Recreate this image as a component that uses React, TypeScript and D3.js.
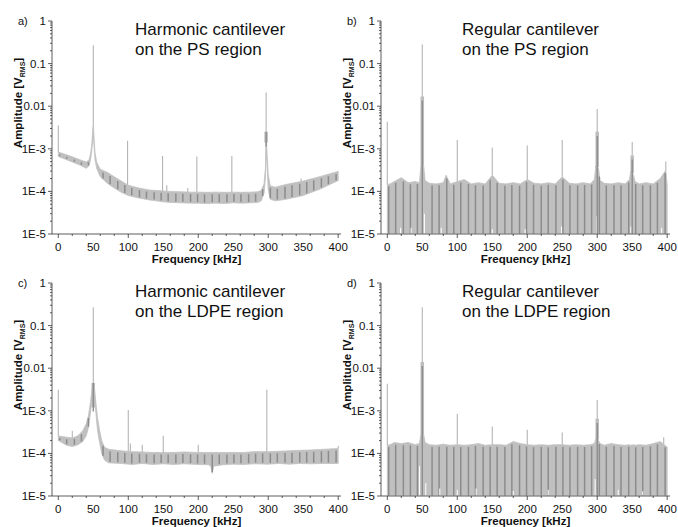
import React, { useEffect, useRef } from "react";
import * as d3 from "d3";

const W = 678, H = 527;

const yTickVals = [1, 0.1, 0.01, 1e-3, 1e-4, 1e-5];
const yTickLabels = ["1", "0.1", "0.01", "1E-3", "1E-4", "1E-5"];
const xTickVals = [0, 50, 100, 150, 200, 250, 300, 350, 400];

// dark striations in the spectra (kHz)
const stripeFreqs = [2, 12, 23, 33, 43, 64, 74, 85, 95, 105, 116, 126, 137, 147, 157, 168, 178, 189, 199, 209,
  220, 230, 241, 251, 261, 272, 282, 292, 303, 313, 324, 334, 345, 355, 365, 376, 386, 397];

// a) harmonic cantilever, PS
const freqA = [0, 10, 20, 30, 40, 44, 46, 47.5, 48.5, 49.3, 50.3, 51.3, 52.5, 55, 60, 70, 80, 90, 100, 115, 130, 140,
  150, 160, 175, 190, 200, 212, 225, 238, 250, 262, 275, 285, 290, 294, 296, 297, 298, 300, 303, 310, 325, 350, 375, 400];
const topA = [8.4e-4, 7.4e-4, 6.5e-4, 5.6e-4, 4.9e-4, 5.5e-4, 7.5e-4, 1.1e-3, 1.9e-3, 3.2e-3, 3.2e-3, 1.6e-3, 8e-4,
  4.8e-4, 3.3e-4, 2.8e-4, 2.2e-4, 1.75e-4, 1.4e-4, 1.2e-4, 1.08e-4, 1.05e-4, 1.02e-4, 1.0e-4, 9.8e-5, 9.6e-5,
  9.6e-5, 9.5e-5, 9.6e-5, 9.5e-5, 9.6e-5, 9.5e-5, 9.6e-5, 9.8e-5, 1.05e-4, 1.5e-4, 3.5e-4, 2.5e-3, 1.0e-3, 2.5e-4,
  1.35e-4, 1.25e-4, 1.45e-4, 1.75e-4, 2.25e-4, 2.95e-4];
const botA = [6.6e-4, 5.7e-4, 4.9e-4, 4.2e-4, 3.5e-4, 4.0e-4, 5.5e-4, 8e-4, 1.2e-3, 1.8e-3, 1.8e-3, 1.0e-3, 5.5e-4,
  3.4e-4, 2.2e-4, 1.55e-4, 1.2e-4, 9.5e-5, 8e-5, 7e-5, 6.3e-5, 6e-5, 5.7e-5, 5.5e-5, 5.4e-5, 5.3e-5, 5.3e-5, 5.2e-5,
  5.3e-5, 5.2e-5, 5.4e-5, 5.3e-5, 5.4e-5, 5.5e-5, 6e-5, 9e-5, 2e-4, 1e-3, 5e-4, 1.1e-4, 6.5e-5, 6e-5, 6.5e-5, 8e-5,
  1.15e-4, 1.8e-4];
const peakFreqA = [0, 50, 99, 149, 155, 185, 198, 248, 297, 347];
const peakAmpA = [3.5e-3, 0.27, 1.55e-3, 6.8e-4, 1.4e-4, 1.2e-4, 6.6e-4, 6.8e-4, 0.021, 2e-4];
const coreFreqA = [297];
const coreAmpA = [1.4e-3];
const gapFreqA: number[] = [];
const gapAmpA: number[] = [];

// b) regular cantilever, PS
const freqB = [0, 4, 10, 20, 30, 40, 46, 48, 52, 54, 60, 70, 80, 84, 90, 100, 110, 120, 130, 140, 150, 160, 170, 180,
  190, 200, 210, 220, 230, 240, 250, 260, 270, 280, 290, 296, 298, 302, 304, 310, 320, 330, 340, 346, 348, 352, 354,
  360, 370, 380, 390, 396, 398, 400];
const topB = [1.45e-4, 1.5e-4, 1.7e-4, 2.1e-4, 1.6e-4, 1.7e-4, 1.6e-4, 4.0e-4, 4.0e-4, 1.8e-4, 1.55e-4, 1.5e-4,
  1.6e-4, 2.4e-4, 1.5e-4, 1.7e-4, 1.9e-4, 1.5e-4, 1.6e-4, 1.5e-4, 2.4e-4, 1.55e-4, 1.5e-4, 1.6e-4, 1.5e-4, 1.9e-4,
  1.55e-4, 1.5e-4, 1.6e-4, 1.5e-4, 2.2e-4, 1.55e-4, 1.5e-4, 1.6e-4, 1.5e-4, 1.9e-4, 4.0e-4, 3.4e-4, 1.8e-4, 1.55e-4,
  1.5e-4, 1.6e-4, 1.5e-4, 1.9e-4, 3.0e-4, 2.4e-4, 1.7e-4, 1.5e-4, 1.6e-4, 1.5e-4, 2.0e-4, 2.8e-4, 3.2e-4, 1.4e-4];
const peakFreqB = [0, 50, 100, 150, 200, 250, 300, 350, 398];
const peakAmpB = [4.3e-3, 0.28, 1.6e-3, 1.07e-3, 1.2e-3, 1.6e-3, 8.6e-3, 1.45e-3, 5e-4];
const coreFreqB = [50, 300, 350];
const coreAmpB = [0.017, 2.5e-3, 7e-4];
const gapFreqB = [19, 34, 53, 77, 150, 197, 249, 299, 348, 392];
const gapAmpB = [1.4e-5, 1.4e-5, 3e-5, 1.4e-5, 1.3e-5, 1.3e-5, 1.5e-5, 2.6e-5, 1.5e-5, 1.4e-5];

// c) harmonic cantilever, LDPE
const freqC = [0, 5, 12, 20, 28, 35, 40, 43, 46, 48, 49.5, 50.5, 52, 54, 56, 59, 62, 66, 72, 90, 105, 120, 135, 150,
  165, 180, 200, 215, 218, 220, 222, 235, 250, 265, 280, 300, 315, 330, 345, 360, 380, 400];
const topC = [2.6e-4, 2.5e-4, 2.4e-4, 2.3e-4, 2.6e-4, 3.4e-4, 5e-4, 7.5e-4, 1.6e-3, 3e-3, 4.5e-3, 4.5e-3, 3e-3,
  1.4e-3, 7e-4, 3.5e-4, 2e-4, 1.4e-4, 1.25e-4, 1.15e-4, 1.1e-4, 1.08e-4, 1.05e-4, 1.05e-4, 1.05e-4, 1.08e-4, 1.05e-4,
  1.05e-4, 1.05e-4, 1.05e-4, 1.05e-4, 1.05e-4, 1.05e-4, 1.05e-4, 1.1e-4, 1.1e-4, 1.12e-4, 1.15e-4, 1.18e-4, 1.2e-4,
  1.25e-4, 1.3e-4];
const botC = [2.0e-4, 1.8e-4, 1.55e-4, 1.45e-4, 1.6e-4, 1.9e-4, 2.6e-4, 4e-4, 9e-4, 1.8e-3, 2.5e-3, 2.5e-3, 1.8e-3,
  8e-4, 3.5e-4, 1.8e-4, 1.0e-4, 7e-5, 6e-5, 5.8e-5, 5.5e-5, 5.8e-5, 5.5e-5, 5.7e-5, 5.5e-5, 5.7e-5, 5.5e-5, 5.4e-5,
  5e-5, 3.4e-5, 5e-5, 5.4e-5, 5.6e-5, 5.5e-5, 5.7e-5, 5.6e-5, 5.8e-5, 5.6e-5, 5.8e-5, 5.7e-5, 5.8e-5, 5.8e-5];
const peakFreqC = [0, 20, 50, 100, 103, 120, 150, 200, 298, 400];
const peakAmpC = [3.1e-3, 3.4e-4, 0.27, 1.05e-3, 1.7e-4, 1.6e-4, 2.6e-4, 1.6e-4, 3.1e-3, 1.5e-4];
const coreFreqC = [50];
const coreAmpC = [1.2e-3];
const gapFreqC: number[] = [];
const gapAmpC: number[] = [];

// d) regular cantilever, LDPE
const freqD = freqB;
const topD = [1.55e-4, 1.6e-4, 1.8e-4, 1.7e-4, 1.8e-4, 1.6e-4, 1.7e-4, 2.8e-4, 2.8e-4, 1.8e-4, 1.6e-4, 1.55e-4,
  1.65e-4, 1.6e-4, 1.55e-4, 1.6e-4, 1.55e-4, 1.6e-4, 1.7e-4, 1.55e-4, 1.6e-4, 1.6e-4, 1.55e-4, 1.9e-4, 1.7e-4,
  1.6e-4, 1.55e-4, 1.6e-4, 1.55e-4, 1.6e-4, 1.6e-4, 1.55e-4, 1.6e-4, 1.55e-4, 1.6e-4, 1.7e-4, 2.2e-4, 2.0e-4,
  1.7e-4, 1.55e-4, 1.7e-4, 1.6e-4, 1.55e-4, 1.6e-4, 1.55e-4, 1.6e-4, 1.55e-4, 1.6e-4, 1.55e-4, 1.7e-4, 1.9e-4,
  1.6e-4, 1.5e-4];
const peakFreqD = [0, 50, 100, 150, 200, 250, 300, 395];
const peakAmpD = [4.3e-3, 0.27, 8.5e-4, 4.3e-4, 3.6e-4, 3.1e-4, 1.8e-3, 2.4e-4];
const coreFreqD = [50, 300];
const coreAmpD = [0.014, 6.5e-4];
const gapFreqD = [46, 55, 75, 100, 127, 180, 230, 297, 330, 365];
const gapAmpD = [5e-5, 2e-5, 1.5e-5, 1.4e-5, 1.5e-5, 1.3e-5, 1.4e-5, 2.5e-5, 1.4e-5, 1.3e-5];

const panels = [
  { id: "a", letter: "a)", left: 52, top: 21, title: ["Harmonic cantilever", "on the PS region"],
    freq: freqA, hi: topA, lo: botA, pf: peakFreqA, pa: peakAmpA, cf: coreFreqA, ca: coreAmpA, gf: gapFreqA, ga: gapAmpA },
  { id: "b", letter: "b)", left: 381, top: 21, title: ["Regular cantilever", "on the PS region"],
    freq: freqB, hi: topB, lo: null, pf: peakFreqB, pa: peakAmpB, cf: coreFreqB, ca: coreAmpB, gf: gapFreqB, ga: gapAmpB },
  { id: "c", letter: "c)", left: 52, top: 283, title: ["Harmonic cantilever", "on the LDPE region"],
    freq: freqC, hi: topC, lo: botC, pf: peakFreqC, pa: peakAmpC, cf: coreFreqC, ca: coreAmpC, gf: gapFreqC, ga: gapAmpC },
  { id: "d", letter: "d)", left: 381, top: 283, title: ["Regular cantilever", "on the LDPE region"],
    freq: freqD, hi: topD, lo: null, pf: peakFreqD, pa: peakAmpD, cf: coreFreqD, ca: coreAmpD, gf: gapFreqD, ga: gapAmpD },
];

const FONT = "Arial, 'Liberation Sans', sans-serif";
const plotW = 289, plotH = 213;

function App() {
  const ref = useRef<SVGSVGElement>(null);

  useEffect(() => {
    const svg = d3.select(ref.current);
    svg.selectAll("*").remove();

    panels.forEach((p) => {
      const g = svg.append("g");
      const x = d3.scaleLinear().domain([-9, 404]).range([p.left, p.left + plotW]);
      const y = d3.scaleLog().domain([1e-5, 1]).range([p.top + plotH, p.top]);
      const bottom = p.top + plotH;

      const hiLog = d3.scaleLinear().domain(p.freq).range(p.hi.map(Math.log10));
      const hiAt = (f: number) => Math.pow(10, hiLog(f));
      const loLog = p.lo ? d3.scaleLinear().domain(p.freq).range(p.lo.map(Math.log10)) : null;
      const loY = (f: number) => (loLog ? y(Math.pow(10, loLog(f))) : bottom + 3);

      g.append("clipPath").attr("id", "clip-" + p.id)
        .append("rect").attr("x", p.left + 0.5).attr("y", p.top - 5).attr("width", plotW).attr("height", plotH + 4.6);
      const plot = g.append("g").attr("clip-path", `url(#clip-${p.id})`);

      // thin peaks
      p.pf.forEach((f, i) => {
        plot.append("line")
          .attr("x1", x(f)).attr("x2", x(f))
          .attr("y1", y(hiAt(f))).attr("y2", y(p.pa[i]))
          .attr("stroke", "#b4b4b4").attr("stroke-width", 1.1);
      });

      // band
      const area = d3.area<number>()
        .x((f) => x(f))
        .y0((f) => loY(f))
        .y1((f) => y(hiAt(f)));
      plot.append("path").datum(p.freq).attr("d", area)
        .attr("fill", "#c0c0c0").attr("stroke", "#c0c0c0").attr("stroke-width", 0.8);

      // dark striations
      stripeFreqs.forEach((f) => {
        plot.append("line")
          .attr("x1", x(f)).attr("x2", x(f))
          .attr("y1", loY(f) - (p.lo ? 1 : 0)).attr("y2", y(hiAt(f) * 0.9))
          .attr("stroke", "#8c8c8c").attr("stroke-width", 1.5);
      });

      // white slits at the bottom of the noise floor
      p.gf.forEach((f, i) => {
        plot.append("line")
          .attr("x1", x(f)).attr("x2", x(f))
          .attr("y1", bottom).attr("y2", y(p.ga[i]))
          .attr("stroke", "#fff").attr("stroke-width", 1);
      });

      // resonance cores
      p.cf.forEach((f, i) => {
        plot.append("line")
          .attr("x1", x(f)).attr("x2", x(f))
          .attr("y1", y(hiAt(f))).attr("y2", y(p.ca[i]))
          .attr("stroke", "#bdbdbd").attr("stroke-width", 3.5);
        plot.append("line")
          .attr("x1", x(f)).attr("x2", x(f))
          .attr("y1", p.lo ? y(hiAt(f)) : bottom).attr("y2", y(p.ca[i] * 0.8))
          .attr("stroke", "#8a8a8a").attr("stroke-width", 1.3);
      });

      // axes
      const ax = g.append("g").attr("stroke", "#333").attr("stroke-width", 0.8);
      ax.append("line").attr("x1", p.left).attr("x2", p.left).attr("y1", p.top).attr("y2", bottom);
      ax.append("line").attr("x1", p.left).attr("x2", p.left + plotW).attr("y1", bottom).attr("y2", bottom);

      y.ticks().forEach((t) => {
        const major = yTickVals.some((v) => Math.abs(Math.log10(v) - Math.log10(t)) < 1e-6);
        ax.append("line").attr("x1", p.left - (major ? 4 : 2)).attr("x2", p.left)
          .attr("y1", y(t)).attr("y2", y(t));
      });
      x.ticks(16).forEach((t) => {
        const major = t % 50 === 0;
        ax.append("line").attr("x1", x(t)).attr("x2", x(t))
          .attr("y1", bottom).attr("y2", bottom + (major ? 4 : 2));
      });

      const txt = g.append("g").attr("font-family", FONT).attr("fill", "#111");
      yTickVals.forEach((v, i) => {
        txt.append("text").attr("x", p.left - 6).attr("y", y(v)).attr("dy", "0.35em")
          .attr("text-anchor", "end").attr("font-size", 11.5).text(yTickLabels[i]);
      });
      xTickVals.forEach((v) => {
        txt.append("text").attr("x", x(v)).attr("y", bottom + 16.5)
          .attr("text-anchor", "middle").attr("font-size", 11.5).text(String(v));
      });
      txt.append("text").attr("x", p.left + plotW / 2).attr("y", bottom + 28.5)
        .attr("text-anchor", "middle").attr("font-size", 11.5).attr("font-weight", "bold")
        .text("Frequency [kHz]");

      const yl = txt.append("text")
        .attr("transform", `translate(${p.left - 30},${p.top + 82}) rotate(-90)`)
        .attr("text-anchor", "middle").attr("font-size", 11.5).attr("font-weight", "bold");
      yl.append("tspan").text("Amplitude [V");
      yl.append("tspan").attr("font-size", 7).attr("dy", 3).text("RMS");
      yl.append("tspan").attr("dy", -3).text("]");

      txt.append("text").attr("x", p.left - 34).attr("y", p.top + 4).attr("font-size", 11).text(p.letter);

      p.title.forEach((line, i) => {
        txt.append("text").attr("x", p.left + (p.id === "a" || p.id === "c" ? 83 : 81))
          .attr("y", p.top + 14 + i * 20).attr("font-size", 17).text(line);
      });
    });
  }, []);

  return (
    <svg ref={ref} width={W} height={H}
      style={{ position: "absolute", left: 0, top: 0, background: "#fff" }} />
  );
}

export default App;
